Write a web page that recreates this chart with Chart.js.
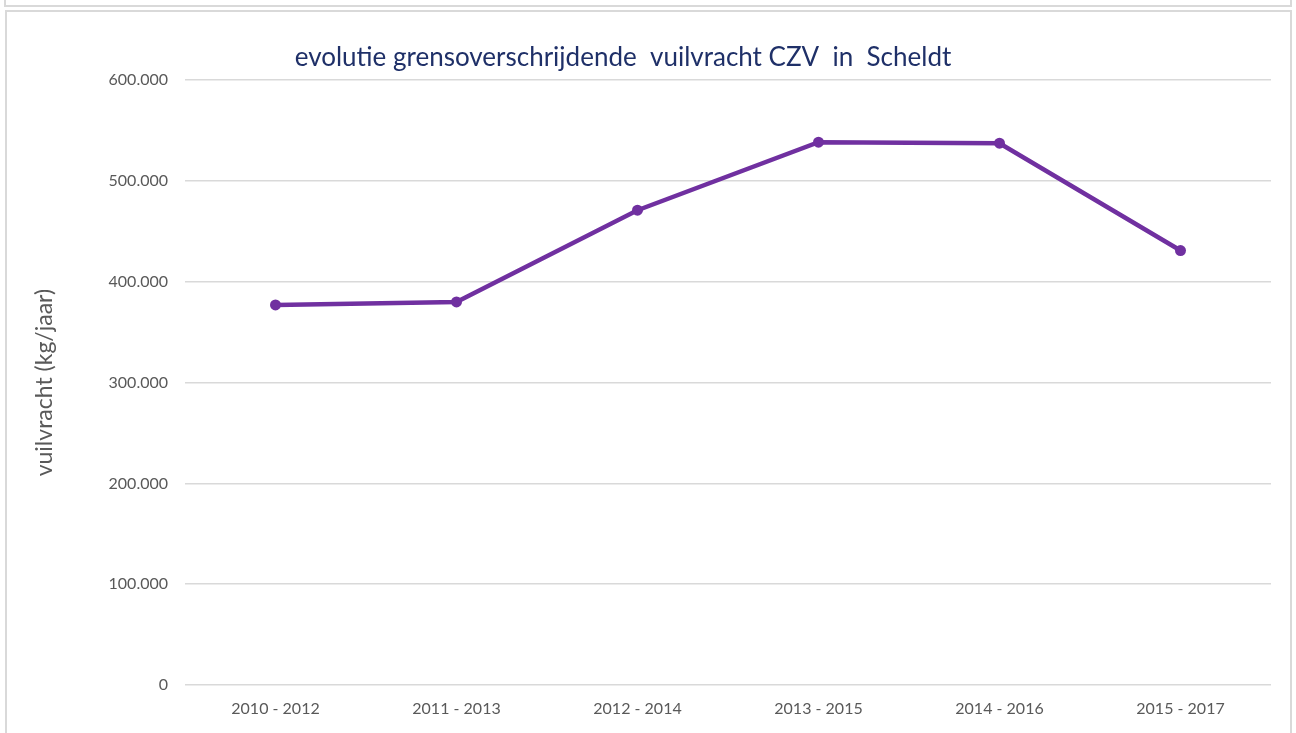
<!DOCTYPE html>
<html>
<head>
<meta charset="utf-8">
<script src="https://cdn.jsdelivr.net/npm/chart.js@4.4.1/dist/chart.umd.min.js"></script>
<style>
  html, body { margin: 0; padding: 0; background: #ffffff; }
  #wrap { position: relative; width: 1296px; height: 733px; overflow: hidden; background: #fff; }
  .frame1 { position: absolute; left: 4px; top: -10px; width: 1284px; height: 13px; border: 2px solid #d9d9d9; }
  .frame2 { position: absolute; left: 5px; top: 10px; width: 1283px; height: 800px; border: 2px solid #d9d9d9; }
  canvas { position: absolute; left: 0; top: 0; }
</style>
</head>
<body>
<div id="wrap">
  <div class="frame1"></div>
  <div class="frame2"></div>
  <canvas id="c" width="1296" height="733"></canvas>
</div>
<script>
const categories = ["2010 - 2012", "2011 - 2013", "2012 - 2014", "2013 - 2015", "2014 - 2016", "2015 - 2017"];
const vuilvracht = [377000, 380000, 471000, 538500, 537500, 431000];
const yTicks = [0, 100000, 200000, 300000, 400000, 500000, 600000];

const FONT = "Lato, 'Open Sans', sans-serif";

function fmt(v) {
  if (v === 0) return "0";
  return String(Math.round(v)).replace(/\B(?=(\d{3})+(?!\d))/g, ".");
}

const titleShift = {
  id: 'titleShift',
  afterLayout(chart) {
    if (chart.titleBlock) {
      chart.titleBlock.left = 0;
      chart.titleBlock.right = 1246;
    }
  }
};

new Chart(document.getElementById('c'), {
  type: 'line',
  data: {
    labels: categories,
    datasets: [{
      label: 'vuilvracht',
      data: vuilvracht,
      borderColor: '#7030A0',
      backgroundColor: '#7030A0',
      borderWidth: 4.5,
      pointRadius: 5.5,
      pointHoverRadius: 5.5,
      pointBackgroundColor: '#7030A0',
      pointBorderColor: '#7030A0',
      pointBorderWidth: 0,
      tension: 0,
      fill: false
    }]
  },
  options: {
    responsive: false,
    animation: false,
    layout: { padding: { left: 0, right: 25, top: 0, bottom: 0 } },
    plugins: {
      legend: { display: false },
      tooltip: { enabled: false },
      title: {
        display: true,
        text: 'evolutie grensoverschrijdende  vuilvracht CZV  in  Scheldt',
        color: '#1F3068',
        font: { family: FONT, size: 26, weight: 'normal' },
        padding: { top: 42, bottom: 7 }
      }
    },
    scales: {
      x: {
        offset: true,
        grid: { display: false, drawTicks: false },
        border: { display: false },
        ticks: {
          color: '#595959',
          font: { family: FONT, size: 16 },
          padding: 14,
          maxRotation: 0
        },
        afterFit(scale) { scale.height = 48; }
      },
      y: {
        min: 0,
        max: 600000,
        afterBuildTicks(scale) { scale.ticks = yTicks.map(v => ({ value: v })); },
        grid: { color: '#d9d9d9', lineWidth: 1.5, drawTicks: false },
        border: { display: false },
        ticks: {
          color: '#595959',
          font: { family: FONT, size: 16 },
          padding: 17,
          callback: (v) => fmt(v)
        },
        title: {
          display: true,
          text: 'vuilvracht (kg/jaar)',
          color: '#595959',
          font: { family: FONT, size: 23 },
          padding: { top: 31, bottom: 0 }
        },
        afterFit(scale) { scale.width = 185; }
      }
    }
  },
  plugins: [titleShift]
});
</script>
</body>
</html>
